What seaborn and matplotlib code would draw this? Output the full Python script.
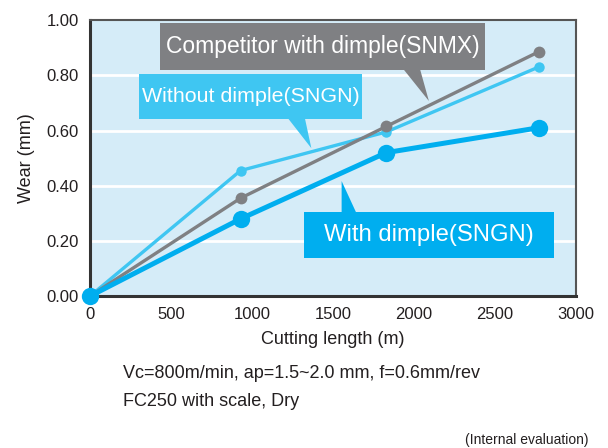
import matplotlib
matplotlib.use("Agg")
import matplotlib.pyplot as plt
from matplotlib.patches import Polygon, Rectangle
import pandas as pd
import seaborn as sns

# data
cutting_length = [0, 930, 1830, 2770]
with_dimple = [0.0, 0.28, 0.52, 0.61]
competitor = [0.0, 0.355, 0.615, 0.885]
without_dimple = [0.0, 0.455, 0.595, 0.83]

x_ticks = [0, 500, 1000, 1500, 2000, 2500, 3000]
y_ticks = [0.0, 0.2, 0.4, 0.6, 0.8, 1.0]

BLUE = "#00aeef"
LIGHT = "#3fc6f2"
GRAY = "#7f8083"
BG = "#d5ecf8"
INK = "#231f20"

sns.set_theme(style="white")
plt.rcParams["font.family"] = ["Liberation Sans", "DejaVu Sans"]

fig = plt.figure(figsize=(6.08, 4.48), dpi=100)
ax = fig.add_axes([0.148, 0.339, 0.799, 0.616])
ax.set_facecolor(BG)

for yv in y_ticks[1:-1]:
    ax.axhline(yv, color="white", lw=2, zorder=1)

series = [
    ("Without dimple(SNGN)", without_dimple, LIGHT, 2.4, 7.5),
    ("Competitor with dimple(SNMX)", competitor, GRAY, 2.4, 8.5),
    ("With dimple(SNGN)", with_dimple, BLUE, 3.6, 12.5),
]
for name, vals, col, lw, ms in series:
    df = pd.DataFrame({"length": cutting_length, "wear": vals})
    sns.lineplot(data=df, x="length", y="wear", ax=ax, color=col, lw=lw,
                 marker="o", markersize=ms, markeredgewidth=0, clip_on=False,
                 zorder=3)

ax.set_xlim(0, 3000)
ax.set_ylim(0, 1.0)
ax.set_xticks(x_ticks)
ax.set_yticks(y_ticks)
ax.set_yticklabels([f"{v:.2f}" for v in y_ticks])
ax.tick_params(axis="x", direction="in", length=6, width=1.5, color="#333333",
               labelsize=12, pad=8, labelcolor=INK)
ax.tick_params(axis="y", length=0, labelsize=12, pad=8, labelcolor=INK)
for s in ["left", "bottom"]:
    ax.spines[s].set_color("#333333")
    ax.spines[s].set_linewidth(2.2)
for s in ["top", "right"]:
    ax.spines[s].set_color("#555555")
    ax.spines[s].set_linewidth(1.5)

ax.set_xlabel("Cutting length (m)", fontsize=13, color=INK, labelpad=6)
ax.set_ylabel("Wear (mm)", fontsize=13, color=INK, labelpad=8)


# callout: box (x0, x1, y0, y1), pointer triangle, label
def callout(text, box, pointer, col, size):
    x0, x1, y0, y1 = box
    ax.add_patch(Rectangle((x0, y0), x1 - x0, y1 - y0, fc=col, ec="none",
                           zorder=5))
    ax.add_patch(Polygon(pointer, closed=True, fc=col, ec="none", zorder=5))
    ax.text((x0 + x1) / 2, (y0 + y1) / 2, text, color="white",
            fontsize=size, ha="center", va="center", zorder=6)


callout("Competitor with dimple(SNMX)", (432, 2438, 0.819, 0.989),
        [(1932, 0.825), (2037, 0.825), (2093, 0.707)], GRAY, 16.5)
callout("Without dimple(SNGN)", (302, 1679, 0.641, 0.804),
        [(1222, 0.645), (1327, 0.645), (1367, 0.536)], LIGHT, 15.4)
callout("With dimple(SNGN)", (1321, 2864, 0.138, 0.304),
        [(1554, 0.300), (1646, 0.300), (1554, 0.417)], BLUE, 17.2)

fig.text(0.202, 0.167, "Vc=800m/min, ap=1.5~2.0 mm, f=0.6mm/rev",
         fontsize=13, color=INK, va="center")
fig.text(0.202, 0.103, "FC250 with scale, Dry",
         fontsize=13, color=INK, va="center")
fig.text(0.968, 0.018, "(Internal evaluation)", fontsize=10,
         color=INK, ha="right", va="center")

fig.savefig("out.png", dpi=100)
